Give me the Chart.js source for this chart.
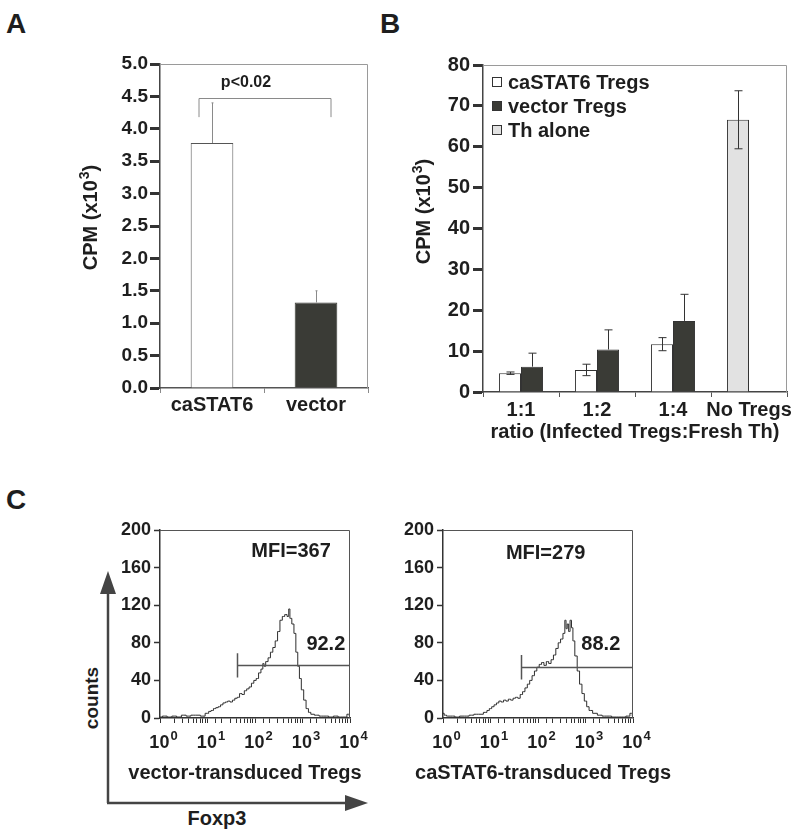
<!DOCTYPE html>
<html>
<head>
<meta charset="utf-8">
<script src="https://cdn.jsdelivr.net/npm/chart.js@4.4.1/dist/chart.umd.min.js"></script>
<style>
  body { margin: 0; background: #fff; width: 800px; height: 837px; position: relative; overflow: hidden;
         font-family: "Liberation Sans", Arial, sans-serif; color: #1e1e1e; }
  canvas { position: absolute; }
  .lbl { position: absolute; font-weight: bold; white-space: nowrap; line-height: 1; }
  svg { position: absolute; left: 0; top: 0; }
</style>
</head>
<body>
<div class="lbl" style="left:6px;top:10px;font-size:28px">A</div>
<div class="lbl" style="left:380px;top:10px;font-size:28px">B</div>
<div class="lbl" style="left:6px;top:486px;font-size:28px">C</div>

<svg width="800" height="837">
  <line x1="108" y1="803" x2="108" y2="592" stroke="#444" stroke-width="2.5"/>
  <polygon points="100,594 116,594 108,571" fill="#444"/>
  <line x1="107" y1="803" x2="347" y2="803" stroke="#444" stroke-width="2.5"/>
  <polygon points="345,795 345,811 368,803" fill="#444"/>
</svg>
<div class="lbl" style="left:91px;top:698px;font-size:19px;transform:translate(-50%,-50%) rotate(-90deg)">counts</div>
<div class="lbl" style="left:217px;top:818px;font-size:20px;transform:translate(-50%,-50%)">Foxp3</div>

<canvas id="chartA" width="400" height="460" style="left:0;top:0"></canvas>
<canvas id="chartB" width="410" height="460" style="left:390px;top:0"></canvas>
<canvas id="chartC1" width="300" height="280" style="left:100px;top:515px"></canvas>
<canvas id="chartC2" width="300" height="280" style="left:383px;top:515px"></canvas>

<script>
// ---- panel A: proliferation, CPM x10^3
const aCategories = ['caSTAT6', 'vector'];
const aMeans = [3.78, 1.32];
const aErrors = [0.62, 0.18];

// ---- panel B: suppression at different ratios
const bCategories = ['1:1', '1:2', '1:4', 'No Tregs'];
const bCaStat6 = [4.6, 5.4, 11.7, null];
const bCaStat6Err = [0.3, 1.4, 1.6, null];
const bVector = [6.2, 10.4, 17.4, null];
const bVectorErr = [3.3, 4.8, 6.5, null];
const bThAlone = [null, null, null, 66.6];
const bThAloneErr = [null, null, null, 7.1];

// ---- panel C: Foxp3 histograms (x as log10 of intensity, y = counts)
const vecExp = [0, 0.1, 0.2, 0.3, 0.4, 0.5, 0.6, 0.7, 0.8, 0.9, 1.0, 1.05, 1.1, 1.15, 1.2, 1.25, 1.3, 1.35,
  1.4, 1.45, 1.5, 1.55, 1.6, 1.65, 1.7, 1.75, 1.8, 1.85, 1.9, 1.95, 2.0, 2.05, 2.1, 2.15, 2.18, 2.2, 2.25,
  2.3, 2.35, 2.4, 2.45, 2.5, 2.55, 2.6, 2.65, 2.7, 2.72, 2.75, 2.8, 2.84, 2.88, 2.92, 2.95, 3.0, 3.05,
  3.1, 3.15, 3.2, 3.3, 3.4, 3.5, 3.6, 3.7, 3.8, 3.9, 3.97, 4.0];
const vecCount = [1, 2, 1, 2, 1, 3, 2, 3, 3, 2, 5, 7, 8, 10, 11, 12, 14, 16,
  17, 18, 17, 19, 21, 22, 26, 25, 29, 31, 33, 37, 40, 42, 48, 52, 58, 55, 60,
  64, 70, 75, 82, 92, 104, 108, 110, 108, 116, 106, 100, 90, 70, 55, 42, 30, 19,
  10, 6, 4, 3, 2, 2, 1, 2, 1, 1, 4, 2];

const caExp = [0, 0.05, 0.1, 0.2, 0.3, 0.4, 0.5, 0.6, 0.7, 0.8, 0.9, 0.95, 1.0, 1.05, 1.1, 1.15, 1.2, 1.25,
  1.3, 1.35, 1.4, 1.45, 1.5, 1.55, 1.6, 1.65, 1.7, 1.75, 1.8, 1.85, 1.9, 1.95, 2.0, 2.05, 2.1, 2.15, 2.2,
  2.25, 2.3, 2.35, 2.4, 2.45, 2.5, 2.55, 2.58, 2.6, 2.63, 2.66, 2.69, 2.72, 2.75, 2.8, 2.85, 2.9, 2.95,
  3.0, 3.05, 3.1, 3.2, 3.3, 3.4, 3.5, 3.6, 3.7, 3.8, 3.9, 3.97, 4.0];
const caCount = [5, 3, 2, 2, 1, 2, 2, 3, 4, 4, 6, 8, 10, 12, 14, 16, 18, 17,
  19, 18, 20, 19, 21, 22, 21, 25, 28, 32, 36, 40, 45, 50, 54, 57, 59, 56, 60,
  58, 62, 67, 74, 80, 84, 90, 104, 95, 100, 92, 104, 96, 82, 66, 50, 36, 26,
  18, 12, 8, 5, 3, 2, 2, 1, 1, 1, 2, 5, 2];

const decadeValues = [1, 10, 100, 1000, 10000];
const decadeExponents = ['0', '1', '2', '3', '4'];

const FONT = '"Liberation Sans", Arial, sans-serif';
const INK = '#1e1e1e';
const DARK_BAR = '#3a3b36';
Chart.defaults.font.family = FONT;
Chart.defaults.font.weight = 'bold';
Chart.defaults.color = INK;

// "base" followed by a raised smaller exponent, centred on cx
function drawPower(ctx, before, sup, after, size, cx, cy) {
  ctx.font = 'bold ' + size + 'px ' + FONT;
  const w1 = ctx.measureText(before).width;
  const w3 = ctx.measureText(after).width;
  const supSize = Math.round(size * 0.72);
  ctx.font = 'bold ' + supSize + 'px ' + FONT;
  const w2 = ctx.measureText(sup).width;
  let x = cx - (w1 + w2 + w3) / 2;
  ctx.textAlign = 'left';
  ctx.textBaseline = 'alphabetic';
  ctx.font = 'bold ' + size + 'px ' + FONT;
  ctx.fillText(before, x, cy);
  x += w1;
  ctx.font = 'bold ' + supSize + 'px ' + FONT;
  ctx.fillText(sup, x + 1, cy - size * 0.42);
  x += w2 + 1;
  ctx.font = 'bold ' + size + 'px ' + FONT;
  ctx.fillText(after, x, cy);
}

// draws the top and right edges of the plot box
const framePlugin = {
  id: 'frame',
  afterDraw(chart, args, opts) {
    const a = chart.chartArea, ctx = chart.ctx;
    ctx.save();
    ctx.strokeStyle = opts.color || '#999';
    ctx.lineWidth = 1;
    ctx.beginPath();
    ctx.moveTo(a.left, a.top + 0.5);
    ctx.lineTo(a.right - 0.5, a.top + 0.5);
    ctx.lineTo(a.right - 0.5, a.bottom);
    ctx.stroke();
    ctx.restore();
  }
};

// rotated y title "CPM (x10^3)"
const cpmTitlePlugin = {
  id: 'cpmTitle',
  afterDraw(chart, args, o) {
    const ctx = chart.ctx;
    ctx.save();
    ctx.translate(o.x, o.y);
    ctx.rotate(-Math.PI / 2);
    ctx.fillStyle = INK;
    drawPower(ctx, 'CPM (x10', '3', ')', o.size, 0, o.size * 0.36);
    ctx.restore();
  }
};

// error bars read from dataset.errors
const errorBarPlugin = {
  id: 'errorBars',
  afterDatasetsDraw(chart) {
    const ctx = chart.ctx, y = chart.scales.y;
    chart.data.datasets.forEach((ds, di) => {
      if (!ds.errors) return;
      const meta = chart.getDatasetMeta(di);
      meta.data.forEach((bar, i) => {
        const v = ds.data[i], e = ds.errors[i];
        if (v == null || e == null) return;
        const top = y.getPixelForValue(v + e);
        const bot = ds.errorUpOnly ? bar.y : y.getPixelForValue(v - e);
        const cap = ds.errorCap;
        const x = Math.round(bar.x) + 0.5;
        ctx.save();
        ctx.strokeStyle = ds.errorColor;
        ctx.lineWidth = 1;
        ctx.beginPath();
        ctx.moveTo(x, top); ctx.lineTo(x, bot);
        ctx.moveTo(x - cap, top); ctx.lineTo(x + cap, top);
        if (!ds.errorUpOnly) { ctx.moveTo(x - cap, bot); ctx.lineTo(x + cap, bot); }
        ctx.stroke();
        ctx.restore();
      });
    });
  }
};

// ---------------- Panel A
new Chart(document.getElementById('chartA'), {
  type: 'bar',
  data: {
    labels: aCategories,
    datasets: [{
      data: aMeans,
      errors: aErrors,
      errorUpOnly: true,
      errorCap: 1,
      errorColor: '#8a8a8a',
      backgroundColor: ['#ffffff', DARK_BAR],
      borderColor: ['#555', DARK_BAR],
      borderWidth: 1,
      borderSkipped: 'bottom',
      barPercentage: 0.41,
      categoryPercentage: 1
    }]
  },
  options: {
    responsive: false,
    animation: false,
    devicePixelRatio: 1,
    layout: { padding: { left: 0, top: 64, right: 32, bottom: 0 } },
    plugins: {
      legend: { display: false },
      tooltip: { enabled: false },
      frame: { color: '#9a9a9a' },
      cpmTitle: { x: 90, y: 218, size: 20 }
    },
    scales: {
      x: {
        grid: { display: true, drawOnChartArea: false, tickLength: 5, tickColor: '#8a8a8a' },
        border: { color: '#555', width: 1.5 },
        ticks: { padding: 0, font: { size: 20 }, autoSkip: false, maxRotation: 0 },
        afterFit: s => { s.height = 72; }
      },
      y: {
        min: 0, max: 5,
        ticks: { stepSize: 0.5, padding: 2, font: { size: 19 }, callback: v => v.toFixed(1) },
        grid: { display: true, drawOnChartArea: false, tickLength: 10, tickWidth: 3, tickColor: '#333' },
        border: { color: '#444', width: 1.5 },
        afterFit: s => { s.width = 160; }
      }
    }
  },
  plugins: [framePlugin, errorBarPlugin, cpmTitlePlugin, {
    id: 'pBracket',
    afterDatasetsDraw(chart) {
      const ctx = chart.ctx, x = chart.scales.x, y = chart.scales.y;
      const x0 = x.getPixelForValue(0) - 13, x1 = x.getPixelForValue(1) + 15;
      const yTop = Math.round(y.getPixelForValue(4.48)) + 0.5, yEnd = y.getPixelForValue(4.18);
      ctx.save();
      ctx.strokeStyle = '#8a8a8a';
      ctx.lineWidth = 1;
      ctx.beginPath();
      ctx.moveTo(x0, yEnd); ctx.lineTo(x0, yTop); ctx.lineTo(x1, yTop); ctx.lineTo(x1, yEnd);
      ctx.stroke();
      ctx.fillStyle = INK;
      ctx.font = 'bold 16px ' + FONT;
      ctx.textAlign = 'center';
      ctx.textBaseline = 'middle';
      ctx.fillText('p<0.02', x.getPixelForValue(0) + 34, y.getPixelForValue(4.72));
      ctx.restore();
    }
  }]
});

// ---------------- Panel B
new Chart(document.getElementById('chartB'), {
  type: 'bar',
  data: {
    labels: bCategories,
    datasets: [
      { label: 'caSTAT6 Tregs', data: bCaStat6, errors: bCaStat6Err, errorCap: 4, errorColor: '#333',
        stack: 'a', backgroundColor: '#ffffff', borderColor: '#333', borderWidth: 1 },
      { label: 'vector Tregs', data: bVector, errors: bVectorErr, errorUpOnly: true, errorCap: 4, errorColor: '#333',
        stack: 'b', backgroundColor: DARK_BAR, borderColor: '#333', borderWidth: 1 },
      { label: 'Th alone', data: bThAlone, errors: bThAloneErr, errorCap: 4, errorColor: '#333',
        stack: 'a', backgroundColor: '#e2e2e2', borderColor: '#333', borderWidth: 1 }
    ]
  },
  options: {
    responsive: false,
    animation: false,
    devicePixelRatio: 1,
    datasets: { bar: { barPercentage: 1, categoryPercentage: 0.58, borderSkipped: 'bottom' } },
    layout: { padding: { left: 0, top: 65, right: 13, bottom: 0 } },
    plugins: {
      legend: { display: false },
      tooltip: { enabled: false },
      frame: { color: '#9a9a9a' },
      cpmTitle: { x: 33, y: 212, size: 20 }
    },
    scales: {
      x: {
        stacked: true,
        grid: { display: true, drawOnChartArea: false, tickLength: 5, tickColor: '#555' },
        border: { color: '#444', width: 1.5 },
        ticks: { padding: 1, font: { size: 20 }, autoSkip: false, maxRotation: 0, minRotation: 0 },
        title: { display: true, text: 'ratio (Infected Tregs:Fresh Th)', font: { size: 20 }, padding: { top: 0, bottom: 16 } },
        afterFit: s => { s.height = 68; }
      },
      y: {
        stacked: false,
        min: 0, max: 80,
        ticks: { stepSize: 10, padding: 3, font: { size: 20 } },
        grid: { display: true, drawOnChartArea: false, tickLength: 10, tickWidth: 3, tickColor: '#333' },
        border: { color: '#444', width: 1.5 },
        afterFit: s => { s.width = 93; }
      }
    }
  },
  plugins: [framePlugin, errorBarPlugin, cpmTitlePlugin, {
    id: 'insideLegend',
    afterDraw(chart) {
      const ctx = chart.ctx;
      ctx.save();
      chart.data.datasets.forEach((ds, i) => {
        const y = 82 + i * 24;
        ctx.fillStyle = ds.backgroundColor;
        ctx.fillRect(102, y - 5, 10, 10);
        ctx.strokeStyle = '#333';
        ctx.lineWidth = 1;
        ctx.strokeRect(102.5, y - 4.5, 9, 9);
        ctx.fillStyle = INK;
        ctx.font = 'bold 20px ' + FONT;
        ctx.textBaseline = 'middle';
        ctx.fillText(ds.label, 118, y + 1);
      });
      ctx.restore();
    }
  }]
});

// ---------------- Panel C
const histAnnotations = {
  id: 'gate',
  afterDatasetsDraw(chart, args, o) {
    const ctx = chart.ctx, x = chart.scales.x, y = chart.scales.y, a = chart.chartArea;
    const gx = Math.round(x.getPixelForValue(o.start)) + 0.5;
    const gy = Math.round(y.getPixelForValue(o.level)) + 0.5;
    ctx.save();
    ctx.strokeStyle = '#555';
    ctx.lineWidth = 1.5;
    ctx.beginPath();
    ctx.moveTo(gx, gy); ctx.lineTo(a.right, gy);
    ctx.moveTo(gx, y.getPixelForValue(o.level + 13)); ctx.lineTo(gx, y.getPixelForValue(o.level - 13));
    ctx.stroke();
    ctx.fillStyle = INK;
    ctx.font = 'bold 20px ' + FONT;
    ctx.textAlign = 'center';
    ctx.textBaseline = 'middle';
    ctx.fillText(o.mfi, x.getPixelForValue(o.mfiAt[0]), y.getPixelForValue(o.mfiAt[1]));
    ctx.fillText(o.pct, x.getPixelForValue(o.pctAt[0]), y.getPixelForValue(o.pctAt[1]));
    // decade labels 10^n under the axis
    decadeValues.forEach((v, i) => {
      drawPower(ctx, '10', decadeExponents[i], '', 18, x.getPixelForValue(v) + 3, a.bottom + 30);
    });
    // subtitle under the plot
    ctx.font = 'bold 20px ' + FONT;
    ctx.textAlign = 'center';
    ctx.textBaseline = 'middle';
    ctx.fillText(o.title, o.titleX, o.titleY);
    ctx.restore();
  }
};

function histogram(id, exps, counts, gate) {
  return new Chart(document.getElementById(id), {
    type: 'line',
    data: {
      datasets: [{
        data: exps.map((e, i) => ({ x: Math.pow(10, e), y: counts[i] })),
        stepped: 'middle',
        borderColor: '#2e2e2e',
        borderWidth: 1,
        pointRadius: 0,
        fill: false
      }]
    },
    options: {
      responsive: false,
      animation: false,
      devicePixelRatio: 1,
      layout: { padding: { left: 0, top: 15, right: 50, bottom: 0 } },
      plugins: {
        legend: { display: false },
        tooltip: { enabled: false },
        frame: { color: '#555' },
        gate: gate
      },
      scales: {
        x: {
          type: 'logarithmic',
          min: 1, max: 10000,
          ticks: { autoSkip: false, maxRotation: 0, font: { size: 18 }, callback: () => '' },
          grid: { display: true, drawOnChartArea: false, tickLength: 5, tickWidth: 1, tickColor: '#333' },
          border: { color: '#333', width: 1.5 },
          afterFit: s => { s.height = 77; }
        },
        y: {
          min: 0, max: 200,
          ticks: { stepSize: 40, padding: 3, font: { size: 18 } },
          grid: { display: true, drawOnChartArea: false, tickLength: 6, tickWidth: 1.5, tickColor: '#333' },
          border: { color: '#333', width: 1.5 },
          afterFit: s => { s.width = 60; }
        }
      }
    },
    plugins: [framePlugin, histAnnotations]
  });
}

histogram('chartC1', vecExp, vecCount,
  { start: 41, level: 56, mfi: 'MFI=367', mfiAt: [575, 177], pct: '92.2', pctAt: [3100, 78],
    title: 'vector-transduced Tregs', titleX: 145, titleY: 258 });
histogram('chartC2', caExp, caCount,
  { start: 44, level: 54, mfi: 'MFI=279', mfiAt: [145, 175], pct: '88.2', pctAt: [2100, 78],
    title: 'caSTAT6-transduced Tregs', titleX: 160, titleY: 258 });
</script>
</body>
</html>
